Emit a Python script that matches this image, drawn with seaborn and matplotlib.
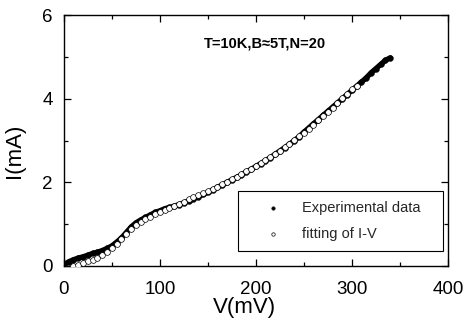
import numpy as np
import pandas as pd
import matplotlib
matplotlib.use("Agg")
import matplotlib.pyplot as plt
import seaborn as sns
from matplotlib.ticker import MultipleLocator

# ---- data ----
v_exp = [0, 5, 10, 15, 20, 25, 30, 35, 40, 45, 50, 55, 60, 65, 70, 75, 80, 85, 90, 95,
         100, 105, 110, 115, 120, 125, 130, 135, 140, 145, 150, 155, 160, 165, 170, 175,
         180, 185, 190, 195, 200, 205, 210, 215, 220, 225, 230, 235, 240, 245, 250, 255,
         260, 265, 270, 275, 280, 285, 290, 295, 300, 305, 310, 315, 320, 325, 330, 335, 340]
i_exp = [0.03, 0.10, 0.15, 0.19, 0.22, 0.26, 0.30, 0.33, 0.37, 0.42, 0.48, 0.57, 0.67, 0.80,
         0.93, 1.03, 1.10, 1.16, 1.22, 1.28, 1.32, 1.37, 1.40, 1.43, 1.47, 1.51, 1.56, 1.61,
         1.66, 1.71, 1.76, 1.82, 1.88, 1.94, 2.00, 2.06, 2.12, 2.18, 2.25, 2.31, 2.38, 2.45,
         2.52, 2.59, 2.67, 2.75, 2.83, 2.91, 3.00, 3.09, 3.20, 3.30, 3.40, 3.50, 3.60, 3.70,
         3.80, 3.90, 4.00, 4.10, 4.20, 4.30, 4.40, 4.50, 4.62, 4.72, 4.82, 4.92, 4.98]
v_fit = [10, 15, 20, 25, 30, 35, 40, 45, 50, 55, 60, 65, 70, 75, 80, 85, 90, 95, 100, 105,
         110, 115, 120, 125, 130, 135, 140, 145, 150, 155, 160, 165, 170, 175, 180, 185,
         190, 195, 200, 205, 210, 215, 220, 225, 230, 235, 240, 245, 250, 255, 260, 265,
         270, 275, 280, 285, 290, 295, 300, 305]
i_fit = [0.00, 0.03, 0.07, 0.11, 0.15, 0.20, 0.26, 0.33, 0.42, 0.53, 0.65, 0.77, 0.88, 0.97,
         1.05, 1.12, 1.18, 1.24, 1.29, 1.34, 1.39, 1.44, 1.49, 1.54, 1.59, 1.64, 1.69, 1.74,
         1.79, 1.85, 1.90, 1.96, 2.02, 2.08, 2.14, 2.20, 2.27, 2.33, 2.40, 2.47, 2.54, 2.61,
         2.68, 2.76, 2.84, 2.92, 3.01, 3.10, 3.19, 3.28, 3.38, 3.48, 3.58, 3.68, 3.79, 3.90,
         4.01, 4.12, 4.23, 4.30]
x_ticks = [0, 100, 200, 300, 400]
y_ticks = [0, 2, 4, 6]
annotation = "T=10K,B\u22485T,N=20"
labels = ["Experimental data", "fitting of I-V"]

df_exp = pd.DataFrame({"V": v_exp, "I": i_exp})
df_fit = pd.DataFrame({"V": v_fit, "I": i_fit})

sns.set_theme(style="ticks")
plt.rcParams["font.family"] = ["Liberation Sans", "DejaVu Sans"]

fig = plt.figure(figsize=(4.66, 3.22), dpi=100)
ax = fig.add_axes([0.137, 0.174, 0.824, 0.779])

# experimental data: dense band of points
sns.lineplot(data=df_exp, x="V", y="I", ax=ax, color="black", linewidth=3.8,
             legend=False, zorder=2)
sns.scatterplot(data=df_exp, x="V", y="I", ax=ax, color="black", s=18,
                marker="o", edgecolor="black", linewidth=0.3, label=labels[0], zorder=2)
# fit
sns.scatterplot(data=df_fit, x="V", y="I", ax=ax, color="white", s=17,
                marker="o", edgecolor="black", linewidth=0.5, label=labels[1], zorder=3)

ax.set_xlim(0, 400)
ax.set_ylim(0, 6)
ax.set_xticks(x_ticks)
ax.set_yticks(y_ticks)
ax.xaxis.set_minor_locator(MultipleLocator(50))
ax.yaxis.set_minor_locator(MultipleLocator(1))
ax.tick_params(which="both", direction="in", top=True, right=True, colors="black",
               labelsize=13.5, width=0.9)
ax.tick_params(which="major", length=5)
ax.tick_params(which="minor", length=3)
ax.tick_params(axis="x", which="major", pad=11)
ax.tick_params(axis="y", which="major", pad=8)
for sp in ax.spines.values():
    sp.set_color("black")
    sp.set_linewidth(1.0)

ax.set_xlabel("V(mV)", fontsize=16, color="black")
ax.set_ylabel("I(mA)", fontsize=16, color="black")
ax.xaxis.set_label_coords(0.471, -0.125)
ax.yaxis.set_label_coords(-0.10, 0.46)

ax.text(210, 5.33, annotation, fontsize=10.5, fontweight="bold", ha="center", va="center",
        color="black")

leg = ax.legend(loc="lower left", bbox_to_anchor=(0.453, 0.06, 0.534, 0.235),
                mode="expand", borderaxespad=0, fontsize=10.5, frameon=True, fancybox=False,
                edgecolor="black", borderpad=0.7, labelspacing=0.8,
                handlelength=3.4, handletextpad=0.3, markerscale=0.6)
leg.get_frame().set_linewidth(0.8)
leg.get_frame().set_alpha(1)

fig.savefig("out.png", dpi=100)
